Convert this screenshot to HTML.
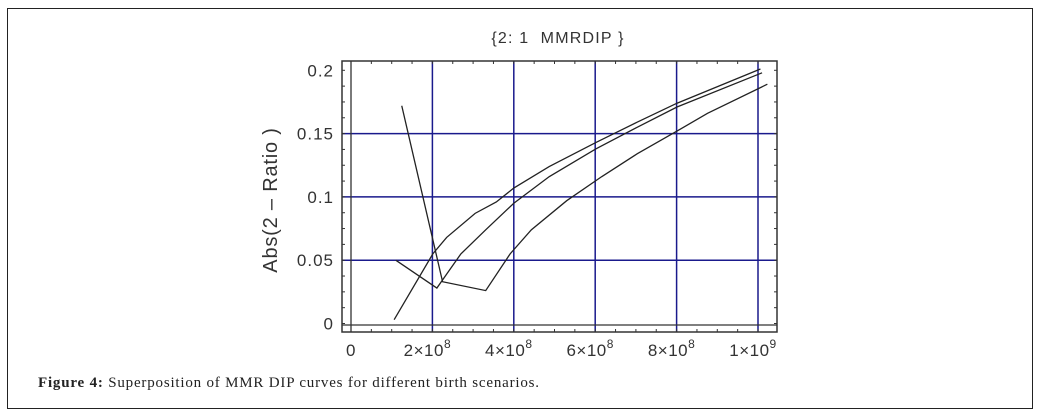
<!DOCTYPE html>
<html><head><meta charset="utf-8">
<style>
html,body{margin:0;padding:0;background:#fff;}
body{width:1043px;height:418px;position:relative;overflow:hidden;}
#frame{position:absolute;left:7px;top:8px;width:1026px;height:401px;border:1px solid #222;box-sizing:border-box;}
#cap{position:absolute;left:38px;top:375px;font-family:"Liberation Serif",serif;font-size:15px;letter-spacing:0.8px;color:#222;white-space:nowrap;}
svg{position:absolute;left:0;top:0;}
</style></head>
<body>
<div id="frame"></div>
<svg id="chart" width="1043" height="418"></svg>
<div id="cap"><b>Figure 4:</b> Superposition of MMR DIP curves for different birth scenarios.</div>
<script>
const xTicks=[0,2e8,4e8,6e8,8e8,1e9];
const xTickLabels=["0","2×10|8","4×10|8","6×10|8","8×10|8","1×10|9"];
const yTicks=[0,0.05,0.1,0.15,0.2];
const yTickLabels=["0","0.05","0.1","0.15","0.2"];
const seriesAx=[1.247e8,2.25e8,3.31e8,3.91e8,4.43e8,5.30e8,6.16e8,7.03e8,8.01e8,8.76e8,1.023e9];
const seriesAy=[0.172,0.033,0.026,0.055,0.074,0.097,0.116,0.134,0.152,0.166,0.189];
const seriesBx=[1.10e8,2.11e8,2.35e8,2.70e8,3.31e8,4.0e8,4.87e8,6.02e8,7.03e8,8.01e8,1.010e9];
const seriesBy=[0.050,0.028,0.039,0.055,0.074,0.095,0.116,0.138,0.155,0.171,0.198];
const seriesCx=[1.06e8,2.01e8,2.35e8,3.05e8,3.57e8,4.0e8,4.87e8,6.02e8,7.03e8,8.01e8,1.006e9];
const seriesCy=[0.003,0.055,0.068,0.087,0.096,0.107,0.124,0.143,0.159,0.174,0.201];

const NS="http://www.w3.org/2000/svg";
const svg=document.getElementById('chart');
const X=v=>351+v/1e8*40.7;
const Y=v=>323.5-v/0.05*63.3;
function el(t,a,p){const e=document.createElementNS(NS,t);for(const k in a)e.setAttribute(k,a[k]);(p||svg).appendChild(e);return e;}
const L=342,R=777,T=61,B=332;
for(const v of yTicks){ if(v===0||v===0.2)continue;
 const g=el('line',{x1:L,x2:R,y1:Y(v),y2:Y(v),stroke:'#1a1a8c','stroke-width':1.5});
 
 }
for(const v of xTicks){ if(v===0)continue;
 const g=el('line',{x1:X(v),x2:X(v),y1:T,y2:B,stroke:'#1a1a8c','stroke-width':1.5});
 
 }
const fr=el('rect',{x:L,y:T,width:R-L,height:B-T,fill:'none',stroke:'#333','stroke-width':1.5});


const xa=el('line',{x1:L,x2:R,y1:Y(0)+1.5,y2:Y(0)+1.5,stroke:'#333','stroke-width':1.3});


const ya=el('line',{x1:X(0),x2:X(0),y1:T,y2:B,stroke:'#333','stroke-width':1.3});


for(let v=0;v<=1.05e9;v+=0.5e8){const x=X(v);if(x>R)break;
 el('line',{x1:x,x2:x,y1:B,y2:B-3,stroke:'#333','stroke-width':1});
 el('line',{x1:x,x2:x,y1:T,y2:T+3,stroke:'#333','stroke-width':1});}
for(let v=0;v<=0.2001;v+=0.0125){const y=Y(v);
 el('line',{x1:L,x2:L+3,y1:y,y2:y,stroke:'#333','stroke-width':1});
 el('line',{x1:R,x2:R-3,y1:y,y2:y,stroke:'#333','stroke-width':1});}
const F='"Liberation Sans",sans-serif';
xTicks.forEach((v,i)=>{const [a,b]=xTickLabels[i].split('|');
 const t=el('text',{x:X(v)+(b?-5:0),y:356,'font-family':F,'font-size':17,'letter-spacing':0.5,fill:'#333','text-anchor':'middle'});
 
 
 t.textContent=a;
 if(b){const s=el('tspan',{dy:-8,'font-size':12},t);s.textContent=b;}});
yTicks.forEach((v,i)=>{const t=el('text',{x:334,y:Y(v)+6,'font-family':F,'font-size':17,'letter-spacing':1,fill:'#333','text-anchor':'end'});
 
 
 t.textContent=yTickLabels[i];});
const yl=el('text',{x:0,y:0,'font-family':F,'font-size':20,'letter-spacing':0.8,fill:'#333','text-anchor':'middle',transform:'translate(277,200) rotate(-90)'});


yl.setAttribute('xml:space','preserve');
yl.textContent='Abs(2 – Ratio )';
const ti=el('text',{x:558,y:43,'font-family':F,'font-size':16,'letter-spacing':1.2,fill:'#333','text-anchor':'middle'});


ti.style.whiteSpace='pre';
ti.textContent='{2: 1  MMRDIP }';
[[seriesAx,seriesAy,'series-a'],[seriesBx,seriesBy,'series-b'],[seriesCx,seriesCy,'series-c']].forEach(([xs,ys,n])=>{
 const p=el('polyline',{points:xs.map((x,i)=>X(x)+','+Y(ys[i])).join(' '),fill:'none',stroke:'#222','stroke-width':1.3});
 
 });
</script>
</body></html>
